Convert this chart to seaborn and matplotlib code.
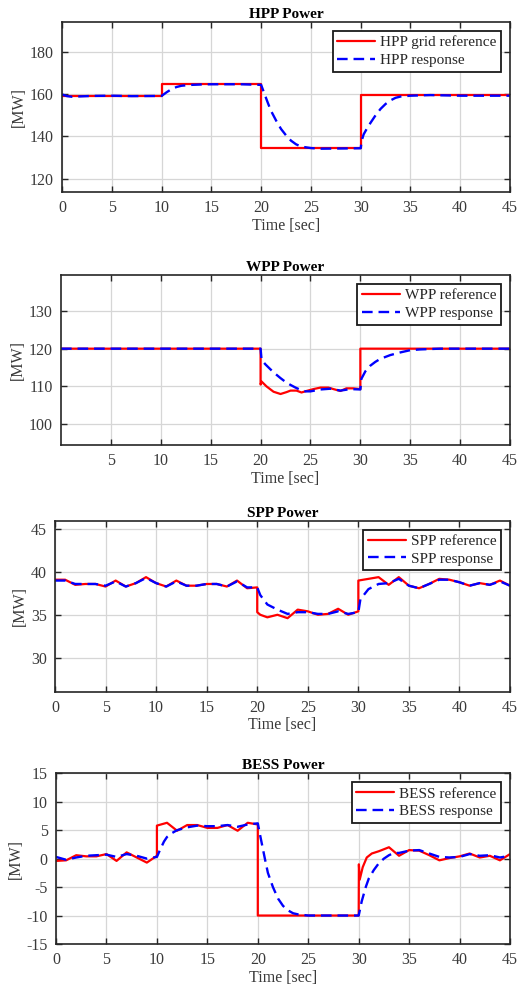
import numpy as np
import pandas as pd
import matplotlib
matplotlib.use("Agg")
import matplotlib.pyplot as plt
import seaborn as sns

# ---- HPP ----
hpp_ref_t = [0, 10, 10, 20, 20, 30, 30, 45]
hpp_ref_v = [159.2, 159.2, 164.5, 164.5, 134.4, 134.4, 159.3, 159.3]
hpp_resp_t = [0, 0.5, 1, 2, 3, 5, 7, 10, 10.5, 11, 11.5, 12, 13, 14, 15, 18, 20,
              20.3, 20.7, 21, 21.5, 22, 22.5, 23, 23.5, 24, 25, 26, 28, 30,
              30.1, 30.3, 30.6, 31, 31.5, 32, 32.5, 33, 33.5, 34, 35, 37, 40, 45]
hpp_resp_v = [159.8, 159.0, 158.7, 158.9, 159.1, 159.2, 159.0, 159.1, 160.8, 162.3,
              163.3, 163.9, 164.3, 164.5, 164.6, 164.6, 164.3, 160.5, 155.5, 152.0,
              147.5, 143.5, 140.5, 138.0, 136.3, 135.2, 134.5, 134.2, 134.3, 134.4,
              138.0, 141.0, 143.5, 146.5, 150.0, 153.0, 155.3, 157.0, 158.2, 158.8,
              159.2, 159.5, 159.2, 159.2]

# ---- WPP ----
wpp_ref_t = [0, 20, 20, 20.1, 20.6, 21.3, 22.0, 22.6, 23.0, 23.6, 24.1, 24.6, 25.3,
             26.0, 26.8, 27.3, 28.0, 28.6, 29.3, 30, 30, 45]
wpp_ref_v = [120, 120, 110.5, 111.3, 110.0, 108.6, 108.0, 108.5, 108.9, 108.9, 108.4,
             108.8, 109.3, 109.7, 109.7, 109.3, 108.8, 109.5, 109.5, 109.3, 120, 120]
wpp_resp_t = [0, 20, 20.1, 20.5, 21, 21.5, 22, 22.5, 23, 23.5, 24, 24.5, 25, 26, 27,
              28, 29, 30, 30.1, 30.5, 31, 31.5, 32, 33, 34, 35, 36, 38, 45]
wpp_resp_v = [120, 120, 117.0, 115.8, 114.5, 113.3, 112.2, 111.2, 110.4, 109.7, 109.1,
              108.7, 108.7, 109.2, 109.4, 108.9, 109.3, 109.2, 112.0, 114.0, 115.5,
              116.5, 117.3, 118.3, 119.0, 119.6, 119.8, 120, 120]

# ---- SPP ----
spp_ref_t = [0, 1, 2, 3, 4, 5, 6, 7, 8, 9, 10, 11, 12, 13, 14, 15, 16, 17, 18, 19, 20,
             20, 20.3, 21, 22, 23, 24, 25, 26, 27, 28, 29, 30, 30, 31, 32, 33, 34, 35,
             36, 37, 38, 39, 40, 41, 42, 43, 44, 45]
spp_ref_v = [39.1, 39.1, 38.5, 38.6, 38.6, 38.3, 39.0, 38.3, 38.7, 39.4, 38.7, 38.3,
             39.0, 38.4, 38.4, 38.6, 38.6, 38.3, 39.0, 38.1, 38.2,
             35.3, 35.0, 34.7, 35.0, 34.6, 35.6, 35.4, 35.0, 35.1, 35.7, 35.0, 35.4,
             39.0, 39.2, 39.4, 38.5, 39.4, 38.4, 38.1, 38.6, 39.2, 39.1, 38.8, 38.4,
             38.7, 38.5, 39.0, 38.4]
spp_resp_t = [0, 1, 2, 3, 4, 5, 6, 7, 8, 9, 10, 11, 12, 13, 14, 15, 16, 17, 18, 19, 20,
              20.3, 21, 22, 23, 24, 25, 26, 27, 28, 29, 30, 30.2, 31, 32, 33, 34, 35,
              36, 37, 38, 39, 40, 41, 42, 43, 44, 45]
spp_resp_v = [39.0, 39.0, 38.6, 38.6, 38.6, 38.4, 38.9, 38.3, 38.7, 39.3, 38.7, 38.3,
              38.9, 38.4, 38.4, 38.6, 38.6, 38.3, 38.9, 38.2, 38.2,
              37.3, 36.2, 35.6, 35.1, 35.3, 35.3, 35.1, 35.1, 35.4, 35.1, 35.3,
              36.8, 38.0, 38.6, 38.7, 39.2, 38.4, 38.1, 38.6, 39.1, 39.1, 38.8, 38.4,
              38.7, 38.5, 38.9, 38.4]

# ---- BESS ----
bess_ref_t = [0, 1, 2, 3, 4, 5, 6, 7, 8, 9, 10, 10, 11, 12, 13, 14, 15, 16, 17, 18,
              19, 20, 20, 30, 30.02, 30.1, 30.4, 30.8, 31.3, 32, 33, 34, 35, 36, 37,
              38, 39, 40, 41, 42, 43, 44, 45]
bess_ref_v = [-0.4, -0.3, 0.6, 0.4, 0.4, 0.8, -0.4, 1.1, 0.2, -0.7, 0.5, 5.8, 6.3, 4.9,
              5.9, 5.9, 5.4, 5.4, 5.9, 4.9, 6.3, 6.0, -10, -10, -1.0, -3.7, -1.5, 0.2,
              0.9, 1.3, 2.0, 0.5, 1.5, 1.4, 0.6, -0.3, 0.1, 0.4, 0.9, 0.2, 0.5, -0.3,
              0.8]
bess_resp_t = [0, 1, 2, 3, 4, 5, 6, 7, 8, 9, 10, 10.3, 10.7, 11, 11.5, 12, 13, 14, 15,
               16, 17, 18, 19, 20, 20.3, 20.7, 21, 21.5, 22, 22.5, 23, 23.5, 24, 25,
               30, 30.3, 30.7, 31, 31.5, 32, 32.5, 33, 33.5, 34, 35, 36, 37, 38, 39,
               40, 41, 42, 43, 44, 45]
bess_resp_v = [0.3, -0.2, 0.2, 0.5, 0.6, 0.7, 0.3, 0.8, 0.5, 0.0, 0.3, 1.5, 3.0, 3.8,
               4.5, 5.0, 5.5, 5.8, 5.7, 5.7, 5.9, 5.6, 6.0, 6.2, 3.5, 0.0, -2.5, -5.0,
               -7.0, -8.3, -9.1, -9.6, -9.8, -10, -10, -7.5, -5.0, -3.5, -2.0, -0.8,
               0.0, 0.6, 1.0, 1.0, 1.4, 1.5, 0.9, 0.3, 0.2, 0.3, 0.8, 0.5, 0.6, 0.2,
               0.5]

titles = ["HPP Power", "WPP Power", "SPP Power", "BESS Power"]
ref_labels = ["HPP grid reference", "WPP reference", "SPP reference", "BESS reference"]
resp_labels = ["HPP response", "WPP response", "SPP response", "BESS response"]
ylims = [(113.8, 194), (94.5, 139.5), (26, 46), (-15, 15)]
yticks = [[120, 140, 160, 180], [100, 110, 120, 130], [30, 35, 40, 45],
          [-15, -10, -5, 0, 5, 10, 15]]
xticks = [list(range(0, 46, 5)), list(range(5, 46, 5)), list(range(0, 46, 5)),
          list(range(0, 46, 5))]

series = [
    (hpp_ref_t, hpp_ref_v, hpp_resp_t, hpp_resp_v),
    (wpp_ref_t, wpp_ref_v, wpp_resp_t, wpp_resp_v),
    (spp_ref_t, spp_ref_v, spp_resp_t, spp_resp_v),
    (bess_ref_t, bess_ref_v, bess_resp_t, bess_resp_v),
]

# axes rectangles [left, bottom, width, height] in figure fractions
positions = [
    [0.1168, 0.8065, 0.8437, 0.1714],
    [0.1149, 0.5514, 0.8456, 0.1714],
    [0.1036, 0.3027, 0.8569, 0.1724],
    [0.1055, 0.0484, 0.8550, 0.1721],
]

sns.set_theme(style="whitegrid")
plt.rcParams["font.family"] = ["Liberation Serif", "DejaVu Serif"]
plt.rcParams["axes.unicode_minus"] = False

TEXT = "#3a3a3a"
fig = plt.figure(figsize=(5.31, 9.92), dpi=100)

for i, (rt, rv, st, sv) in enumerate(series):
    ax = fig.add_axes(positions[i])
    ref_df = pd.DataFrame({"t": rt, "v": rv})
    resp_df = pd.DataFrame({"t": st, "v": sv})
    sns.lineplot(data=ref_df, x="t", y="v", estimator=None, sort=False, ax=ax,
                 color="#ff0000", linewidth=1.6, label=ref_labels[i])
    sns.lineplot(data=resp_df, x="t", y="v", estimator=None, sort=False, ax=ax,
                 color="#0000ff", linewidth=1.7, label=resp_labels[i])
    ax.lines[1].set_linestyle((0, (4.5, 2.5)))

    ax.set_xlim(0, 45)
    ax.set_ylim(*ylims[i])
    ax.set_xticks(xticks[i])
    ax.set_yticks(yticks[i])
    ax.grid(True, color="#d6d6d6", linewidth=0.9)
    ax.set_facecolor("white")
    for sp in ax.spines.values():
        sp.set_color("#262626")
        sp.set_linewidth(1.2)
        sp.set_visible(True)
    ax.tick_params(direction="in", length=4, width=1.0, color="#262626",
                   top=True, right=True, bottom=True, left=True,
                   labelsize=11.5, labelcolor=TEXT, pad=6)
    ax.set_title(titles[i], fontsize=11, fontweight="bold", color="black", pad=3)
    ax.set_ylabel("[MW]", fontsize=11.5, color=TEXT, labelpad=2)
    ax.set_xlabel("Time [sec]", fontsize=11.5, color=TEXT, labelpad=1)

    leg = ax.legend(loc="upper right", fontsize=11, frameon=True, fancybox=False,
                    framealpha=1, edgecolor="#1a1a1a", handlelength=2.5,
                    borderaxespad=0.6, borderpad=0.3, labelspacing=0.25,
                    handletextpad=0.3)
    leg.get_frame().set_linewidth(1.3)
    for txt in leg.get_texts():
        txt.set_color("#262626")

fig.savefig("out.png", dpi=100)
